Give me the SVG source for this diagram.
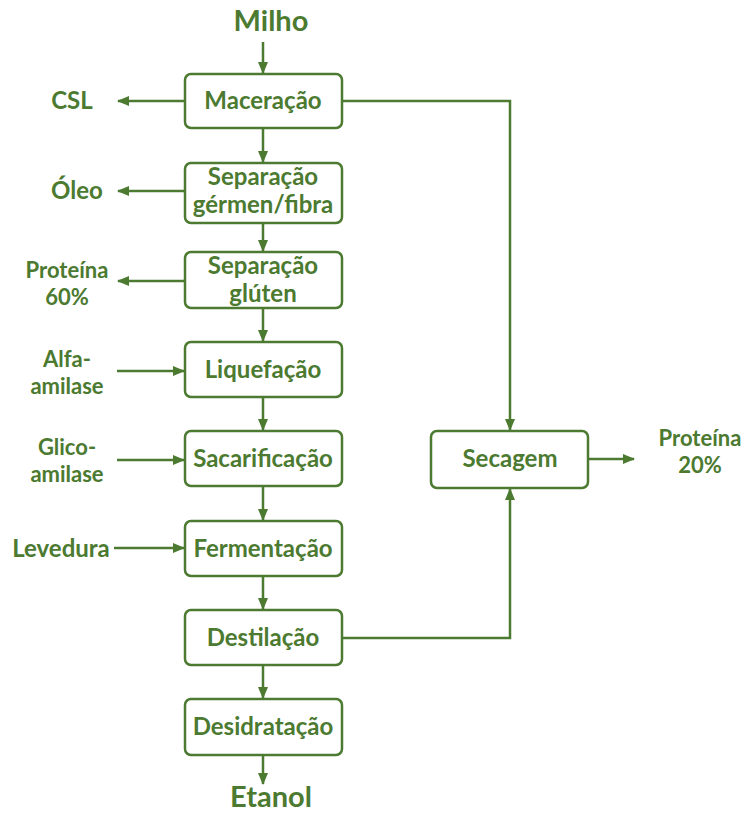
<svg xmlns="http://www.w3.org/2000/svg" width="747" height="814" viewBox="0 0 747 814">
<style>
.box{fill:#fff;stroke:#4b7a30;stroke-width:2.5}
.t{font-family:Lato,"Open Sans","Liberation Sans",sans-serif;font-weight:bold;font-size:24px;fill:#4b7a30;text-anchor:middle}
.big{font-size:29px}
.s{font-size:22px}
.c{fill:none;stroke:#4b7a30;stroke-width:2.5}
</style>
<defs>
<marker id="ah" markerWidth="12" markerHeight="10" refX="11" refY="5" orient="auto" markerUnits="userSpaceOnUse">
<path d="M0,0 L12,5 L0,10 Z" fill="#4b7a30"/>
</marker>
</defs>
<rect width="747" height="814" fill="#fff"/>
<g id="connectors">
<path class="c" d="M263,42 V73" marker-end="url(#ah)"/>
<path class="c" d="M185,101 H118" marker-end="url(#ah)"/>
<path class="c" d="M342,101 H510 V430" marker-end="url(#ah)"/>
<path class="c" d="M263,128 V162" marker-end="url(#ah)"/>
<path class="c" d="M185,191 H118" marker-end="url(#ah)"/>
<path class="c" d="M263,223 V251" marker-end="url(#ah)"/>
<path class="c" d="M185,281 H118" marker-end="url(#ah)"/>
<path class="c" d="M263,308 V341" marker-end="url(#ah)"/>
<path class="c" d="M117,371 H184" marker-end="url(#ah)"/>
<path class="c" d="M263,397 V430" marker-end="url(#ah)"/>
<path class="c" d="M117,460 H184" marker-end="url(#ah)"/>
<path class="c" d="M263,486 V520" marker-end="url(#ah)"/>
<path class="c" d="M114,548 H184" marker-end="url(#ah)"/>
<path class="c" d="M263,576 V609" marker-end="url(#ah)"/>
<path class="c" d="M342,638 H510 V489" marker-end="url(#ah)"/>
<path class="c" d="M588,459 H634" marker-end="url(#ah)"/>
<path class="c" d="M263,665 V698" marker-end="url(#ah)"/>
<path class="c" d="M263,755 V784" marker-end="url(#ah)"/>
</g>
<g id="milho"><text class="t big" x="271" y="31">Milho</text></g>
<g id="etanol"><text class="t big" x="271" y="807">Etanol</text></g>
<g id="maceracao"><rect class="box" x="185" y="74" width="157" height="54" rx="6"/><text class="t" x="263" y="109">Maceração</text></g>
<g id="sep-germen"><rect class="box" x="185" y="163" width="157" height="60" rx="6"/><text class="t" x="263" y="185">Separação</text><text class="t" x="263" y="213">gérmen/fibra</text></g>
<g id="sep-gluten"><rect class="box" x="185" y="252" width="157" height="56" rx="6"/><text class="t" x="263" y="274">Separação</text><text class="t" x="263" y="302">glúten</text></g>
<g id="liquefacao"><rect class="box" x="185" y="342" width="157" height="55" rx="6"/><text class="t" x="263" y="378">Liquefação</text></g>
<g id="sacarificacao"><rect class="box" x="185" y="431" width="157" height="55" rx="6"/><text class="t" x="263" y="467">Sacarificação</text></g>
<g id="fermentacao"><rect class="box" x="185" y="521" width="157" height="55" rx="6"/><text class="t" x="263" y="557">Fermentação</text></g>
<g id="destilacao"><rect class="box" x="185" y="610" width="157" height="55" rx="6"/><text class="t" x="263" y="646">Destilação</text></g>
<g id="desidratacao"><rect class="box" x="185" y="699" width="157" height="56" rx="6"/><text class="t" x="263" y="735">Desidratação</text></g>
<g id="secagem"><rect class="box" x="431" y="431" width="157" height="57" rx="6"/><text class="t" x="510" y="467">Secagem</text></g>
<g id="csl"><text class="t" x="72" y="109">CSL</text></g>
<g id="oleo"><text class="t" x="77" y="199">Óleo</text></g>
<g id="proteina60"><text class="t s" x="67" y="278">Proteína</text><text class="t s" x="67" y="304.5">60%</text></g>
<g id="alfa"><text class="t s" x="67" y="367">Alfa-</text><text class="t s" x="67" y="393.5">amilase</text></g>
<g id="glico"><text class="t s" x="67" y="455">Glico-</text><text class="t s" x="67" y="481.5">amilase</text></g>
<g id="levedura"><text class="t" x="61" y="557">Levedura</text></g>
<g id="proteina20"><text class="t s" x="700" y="446">Proteína</text><text class="t s" x="700" y="472.5">20%</text></g>
</svg>
